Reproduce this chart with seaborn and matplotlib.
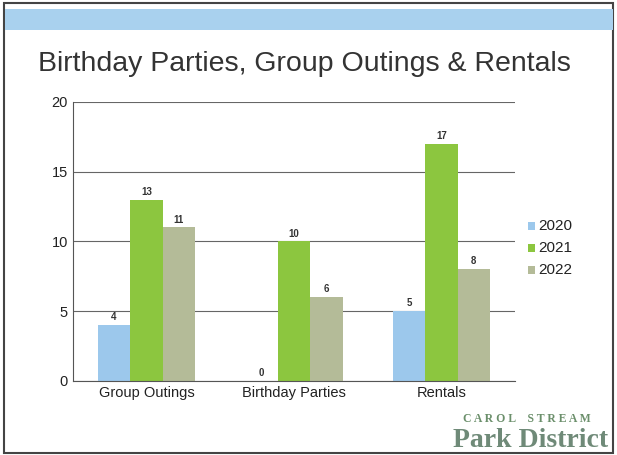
import pandas as pd
import numpy as np
import matplotlib.pyplot as plt
import seaborn as sns
from matplotlib.patches import Rectangle

categories = ['Group Outings', 'Birthday Parties', 'Rentals']
years = ['2020', '2021', '2022']
vals_2020 = [4, 0, 5]
vals_2021 = [13, 10, 17]
vals_2022 = [11, 6, 8]
colors = ['#9cc8ec', '#8cc63f', '#b4bb98']

df = pd.DataFrame({
    'category': categories * 3,
    'year': [y for y in years for _ in categories],
    'value': vals_2020 + vals_2021 + vals_2022,
})

sns.set_style('white')
plt.rcParams['font.family'] = ['Liberation Sans', 'DejaVu Sans']

fig = plt.figure(figsize=(6.17, 4.55), dpi=100)
# slide frame and blue band
fig.patches.append(Rectangle((0.006, 0.004), 0.988, 0.99, transform=fig.transFigure,
                             fill=False, edgecolor='#444444', linewidth=1.5))
fig.patches.append(Rectangle((0.008, 0.935), 0.985, 0.045, transform=fig.transFigure,
                             facecolor='#a9d1ee', edgecolor='none'))
fig.text(0.062, 0.845, 'Birthday Parties, Group Outings & Rentals', fontsize=20.5, color='#333333')

ax = fig.add_axes([0.118, 0.163, 0.717, 0.613])
sns.barplot(data=df, x='category', y='value', hue='year', palette=colors,
            width=0.66, saturation=1, ax=ax, legend=False, linewidth=0, edgecolor='none')
ax.set_ylim(0, 20)
ax.set_xlim(-0.5, 2.5)
ax.set_yticks([0, 5, 10, 15, 20])
ax.grid(axis='y', color='#666666', linewidth=0.8)
ax.set_axisbelow(True)
for s in ['top', 'right']:
    ax.spines[s].set_visible(False)
ax.spines['left'].set_color('#555555')
ax.spines['bottom'].set_color('#555555')
ax.tick_params(axis='both', labelsize=10.5, colors='#222222', length=0)
ax.set_xlabel('')
ax.set_ylabel('')

for c in ax.containers:
    ax.bar_label(c, fmt='%d', fontsize=7, fontweight='bold', color='#333333', padding=2)

# legend
for i, (y, col) in enumerate(zip(years, colors)):
    fy = 1 - (226 + 22 * i) / 455
    fig.patches.append(Rectangle((0.855, fy - 0.009), 0.012, 0.018, transform=fig.transFigure,
                                 facecolor=col, edgecolor='none'))
    fig.text(0.872, fy, y, fontsize=11, va='center', color='#222222')

# logo
fig.text(0.75, 0.073, 'C A R O L    S T R E A M', fontsize=8.5, fontweight='bold',
         color='#6b8f6b', family=['Liberation Serif', 'DejaVu Serif'])
fig.text(0.735, 0.018, 'Park District', fontsize=20, fontweight='bold',
         color='#6f8a78', family=['Liberation Serif', 'DejaVu Serif'])

plt.savefig('out.png', dpi=100)
